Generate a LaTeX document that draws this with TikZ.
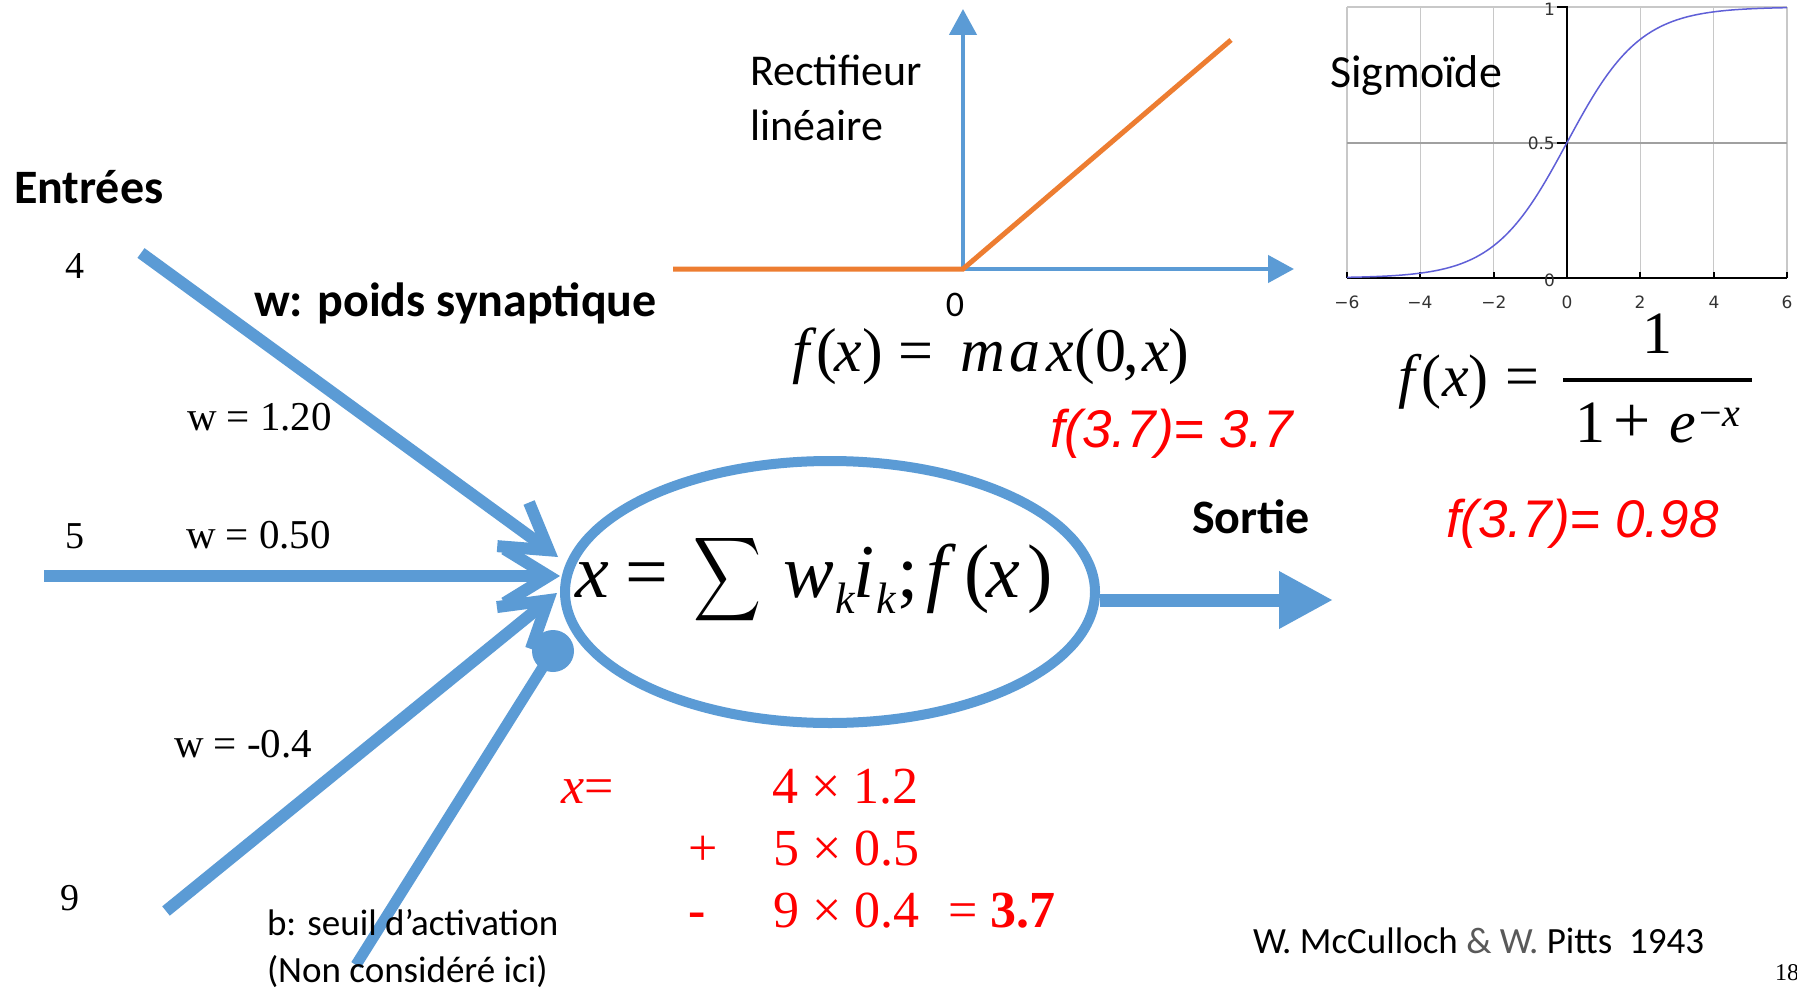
\documentclass[tikz,border=0pt]{standalone}
\usepackage{graphicx}
\usepackage{fontspec}
\setmainfont{Carlito}
\newfontfamily\tnr{Liberation Serif}
\newfontfamily\ari{Liberation Sans}
\newfontfamily\djv{DejaVu Sans}
\usetikzlibrary{arrows.meta,shapes.geometric}
\definecolor{ablue}{HTML}{5B9BD5}
\definecolor{aorange}{HTML}{ED7D31}
\definecolor{sigblue}{RGB}{95,95,215}
\definecolor{credgray}{HTML}{595959}
\definecolor{gridc}{RGB}{200,200,200}
\definecolor{gridd}{RGB}{160,160,160}
\newcommand{\fs}[1]{\fontsize{#1}{#1}\selectfont}
\newcommand{\putat}[2]{\makebox[0pt][l]{\hspace*{#1}#2}}
\begin{document}
\begin{tikzpicture}[x=1pt,y=-1pt,
  lbl/.style={inner sep=0pt, outer sep=0pt, anchor=base west},
  boldlbl/.style={lbl, font=\bfseries\fs{48}},
  serlbl/.style={lbl, font=\tnr\fs{41}},
  redser/.style={lbl, text=red, font=\tnr\fs{52}},
  redsans/.style={lbl, text=red, font=\ari\itshape\fs{53}},
  inarrow/.style={ablue, line width=12pt, -{Straight Barb[length=44pt,width=54pt]}},
  tick/.style={font=\djv\fs{17}, text=black!80, inner sep=0pt},
]
\useasboundingbox (0,0) rectangle (1797,990);
\fill[white] (0,0) rectangle (1797,990);

% ---------------- ReLU plot ----------------
\coordinate (ro) at (963,269);
\coordinate (rytip) at (963,9);
\coordinate (rxtip) at (1294,269);
\coordinate (rleft) at (673,269);
\coordinate (rdiag) at (1231,40);
\draw[ablue, line width=4.5pt, -{Triangle[length=26pt,width=27pt]}] ([yshift=2pt]ro) -- (rytip);
\draw[ablue, line width=4.5pt, -{Triangle[length=26pt,width=27pt]}] (ro) -- (rxtip);
\draw[aorange, line width=5pt] (rleft) -- (ro) -- (rdiag);
\node[lbl, font=\fontsize{44}{55}\selectfont, align=left] (relulbl) at (750,140) {Rectifieur\\lin\'eaire};
\node[inner sep=0pt, anchor=base, font=\fs{36}] (zero) at (955,316) {0};
\node[lbl, font=\tnr\fs{62}] (relueq) at (784,371) {\putat{8pt}{\textit{f}}\putat{32pt}{(}\putat{50pt}{\textit{x}}\putat{78pt}{)}\putat{114pt}{=}\putat{176pt}{\textit{m}}\putat{225pt}{\textit{a}}\putat{262pt}{\textit{x}}\putat{290pt}{(}\putat{311pt}{0}\putat{339pt}{,}\putat{358pt}{\textit{x}}\putat{384pt}{)}};
\node[redsans] (reluval) at (1050,447) {f(3.7)= 3.7};

% ---------------- Sigmoid plot ----------------
\foreach \t in {-6,-4,-2,2,4,6} {
  \draw[gridc, line width=1.5pt] ({1567+36.667*\t},278) -- ({1567+36.667*\t},7);
}
\draw[gridc, line width=1.5pt] (1347,7) -- (1787,7);
\draw[gridd, line width=1.5pt] (1347,143) -- (1787,143);
\draw[black, line width=2pt] (1347,278) -- (1787,278);
\foreach \t in {-6,-4,-2,2,4,6} {
  \draw[black, line width=2pt] ({1567+36.667*\t},278) -- ({1567+36.667*\t},272);
}
\draw[black, line width=2pt] (1557,7) -- (1567,7) -- (1567,278);
\draw[black, line width=2pt] (1557,143) -- (1567,143);
\draw[black, line width=2pt] (1557,278) -- (1567,278);
\draw[sigblue, line width=1.5pt] plot[domain=-6:6, samples=120, smooth] ({1567+36.667*\x},{278-271/(1+exp(-\x))});
\node[tick] (tm6) at (1347,302) {−6};
\node[tick] (tm4) at (1420,302) {−4};
\node[tick] (tm2) at (1494,302) {−2};
\node[tick] (t0) at (1567,302) {0};
\node[tick] (t2) at (1640,302) {2};
\node[tick] (t4) at (1714,302) {4};
\node[tick] (t6) at (1787,302) {6};
\node[tick, anchor=east] (ty1) at (1555,9) {1};
\node[tick, anchor=east] (ty05) at (1555,143) {0.5};
\node[tick, anchor=east] (ty0) at (1555,280) {0};
\node[lbl, font=\fs{46}] (siglbl) at (1330,88) {Sigmo\"ide};
\node[lbl, font=\tnr\fs{60}] (sigeq) at (1395,396) {\putat{3pt}{\textit{f}}\putat{26pt}{(}\putat{47pt}{\textit{x}}\putat{73pt}{)}\putat{110pt}{=}};
\node[inner sep=0pt, anchor=base, font=\tnr\fs{60}] (signum) at (1657,353) {1};
\node[lbl, font=\tnr\fs{60}] (sigden) at (1575,442) {\putat{0pt}{1}\putat{38pt}{\fs{66}+}\putat{94pt}{\textit{e}}\putat{124pt}{\raisebox{16pt}{\fs{40}−\textit{x}}}};
\draw[black, line width=4.5pt] (1563,380) -- (1752,380);
\node[redsans] (sigval) at (1446,537) {f(3.7)= 0.98};

% ---------------- Neuron ----------------
\node[ellipse, draw=ablue, line width=10pt, minimum width=530pt, minimum height=262pt, inner sep=0pt] (neuron) at (830,592) {};
\node[lbl, font=\tnr\fs{76}] (neq) at (575,597) {\putat{0pt}{\textit{x}}\putat{50pt}{=}\putat{118pt}{\raisebox{-30pt}{\resizebox*{68pt}{94pt}{\raisebox{\depth}{$\displaystyle\sum$}}}}\putat{208pt}{\textit{w}}\putat{260pt}{\raisebox{-16pt}{\fs{44}\textit{k}}}\putat{278pt}{\textit{i}}\putat{301pt}{\raisebox{-16pt}{\fs{44}\textit{k}}}\putat{322pt}{;}\putat{351pt}{\textit{f}}\putat{389pt}{(}\putat{411pt}{\textit{x}}\putat{452pt}{)}};

% inputs
\coordinate (s1) at (141,253);
\coordinate (s2) at (44,576);
\coordinate (s3) at (166,911);
\coordinate (t1) at (558,557);
\coordinate (t2) at (560,576);
\coordinate (t3) at (557,593);
\coordinate (b0) at (356,965);
\node[circle, fill=ablue, minimum size=42pt, inner sep=0pt] (bias) at (553,651) {};
\draw[ablue, line width=11pt] (b0) -- (bias.center);
\draw[inarrow] (s1) -- (t1);
\draw[inarrow] (s2) -- (t2);
\draw[inarrow] (s3) -- (t3);

% output
\coordinate (outtip) at (1333,600);
\draw[ablue, line width=13pt, -{Triangle[length=54pt,width=54pt]}] (neuron.east |- outtip) -- (outtip);

% labels
\node[boldlbl] (entrees) at (14,203) {Entr\'ees};
\node[boldlbl] (wlbl) at (254,316) {w: poids synaptique};
\node[boldlbl] (sortie) at (1192,533) {Sortie};
\node[lbl, font=\tnr\fs{38}] (in4) at (65,278) {4};
\node[lbl, font=\tnr\fs{38}] (in5) at (65,548) {5};
\node[lbl, font=\tnr\fs{38}] (in9) at (60,910) {9};
\node[serlbl] (w1) at (187,430) {w = 1.20};
\node[serlbl] (w2) at (186,548) {w = 0.50};
\node[serlbl] (w3) at (174,757) {w = -0.4};
\node[lbl, font=\fontsize{37}{47}\selectfont, align=left] (bias1) at (267,982) {b: seuil d’activation\\(Non consid\'er\'e ici)};

% calculation
\node[redser] (cx) at (561,803) {\textit{x}=};
\node[redser] (c1) at (772,803) {4 × 1.2};
\node[redser] (cplus) at (688,865) {+};
\node[redser] (c2) at (773,865) {5 × 0.5};
\node[redser] (cminus) at (688,927) {\textbf{-}};
\node[redser] (c3) at (773,927) {9 × 0.4};
\node[redser] (cres) at (948,927) {= \textbf{3.7}};

% credits
\node[lbl, font=\fs{37}] (credit) at (1253,953) {W. McCulloch {\color{credgray}\& W.} Pitts\ \ 1943};
\node[lbl, font=\tnr\fs{24}] (page) at (1775,980) {18};
\end{tikzpicture}
\end{document}
